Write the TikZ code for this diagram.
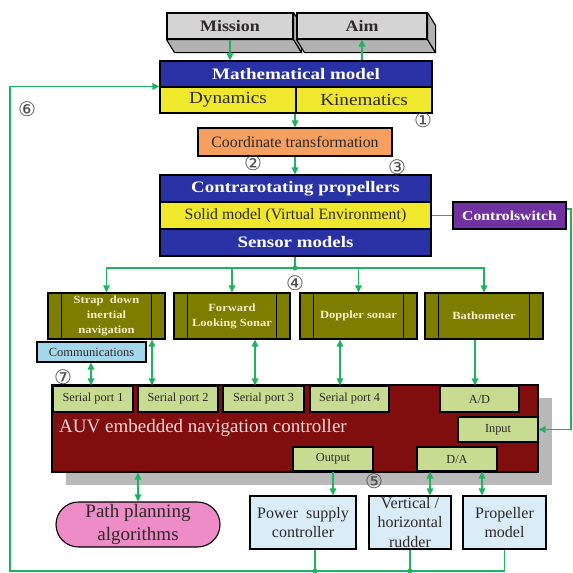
\documentclass[tikz,border=0pt]{standalone}
\usepackage{fontspec}
\setmainfont{Liberation Serif}
\newfontfamily\dvs{DejaVu Sans}
\usetikzlibrary{arrows.meta,shapes.misc}
\definecolor{grn}{RGB}{30,180,95}
\definecolor{bluebar}{RGB}{40,50,165}
\definecolor{yel}{RGB}{240,232,45}
\definecolor{ora}{RGB}{245,160,95}
\definecolor{pur}{RGB}{112,50,160}
\definecolor{oli}{RGB}{125,125,0}
\definecolor{ltblue}{RGB}{165,215,235}
\definecolor{paleblue}{RGB}{218,236,248}
\definecolor{dred}{RGB}{128,14,14}
\definecolor{ltgrn}{RGB}{200,220,145}
\definecolor{pnk}{RGB}{238,140,200}
\definecolor{gface}{RGB}{212,212,212}
\definecolor{gside}{RGB}{178,178,178}
\definecolor{txt}{RGB}{45,40,40}
\definecolor{snstxt}{RGB}{245,240,200}
\definecolor{auvtxt}{RGB}{245,215,215}
\newcommand\fs[2]{\fontsize{#1}{#2}\selectfont}
\newcommand\hs[2]{\scalebox{#1}[1]{#2}}
\newcommand\sls[1]{\scalebox{1.14}[1]{#1}}
\begin{document}
\begin{tikzpicture}[x=1pt,y=-1pt,
  box/.style={draw=black, line width=1.1pt, inner sep=0pt, align=center},
  gline/.style={draw=grn, line width=1.6pt},
  arw/.style={gline, -{Triangle[width=6.5pt,length=7pt]}},
  darw/.style={gline, {Triangle[width=6.5pt,length=7pt]}-{Triangle[width=6.5pt,length=7pt]}},
  num/.style={font=\dvs\fs{20}{20}, text=black!70, inner sep=0pt},
  head/.style={box, fill=bluebar, text=white, font=\bfseries\fs{16}{16}},
  ybar/.style={box, fill=yel, text=txt},
  sens/.style={box, fill=oli, text=snstxt, font=\bfseries\fs{11}{15}, minimum width=117pt, minimum height=46pt},
  port/.style={box, fill=ltgrn, text=txt, font=\fs{12.3}{12}, minimum width=80pt, minimum height=26pt},
  act/.style={box, fill=paleblue, text=txt, font=\fs{16}{19.5}, minimum height=53pt},
  gbox/.style={box, fill=gface, text=txt, font=\bfseries\fs{16}{16}, minimum height=26pt},
  face/.style={fill=gside, draw=black, line width=1.1pt, line join=round},
  dot/.style={circle, fill=grn, inner sep=0pt, minimum size=5pt}
]
\useasboundingbox (0,0) rectangle (573,573);
\fill[white] (0,0) rectangle (573,573);

% Mission / Aim
\node[gbox, minimum width=126pt] (mis) at (230,26) {\hs{1.12}{Mission}};
\filldraw[face] (mis.south west) -- ++(8,13) -- ([shift={(8,13)}]mis.south east) -- (mis.south east) -- cycle;
\filldraw[face] (mis.north east) -- ++(8,13) -- ([shift={(8,13)}]mis.south east) -- (mis.south east) -- cycle;
\node[gbox, minimum width=130pt] (aim) at (362,26) {\hs{1.12}{Aim}};
\filldraw[face] (aim.south west) -- ++(8,13) -- ([shift={(8,13)}]aim.south east) -- (aim.south east) -- cycle;
\filldraw[face] (aim.north east) -- ++(8,13) -- ([shift={(8,13)}]aim.south east) -- (aim.south east) -- cycle;

% Mathematical model
\node[head, minimum width=272pt, minimum height=26pt] (mm) at (296,74) {\hs{1.19}{Mathematical model}};
\node[ybar, minimum width=136pt, minimum height=26pt, font=\fs{17}{17}] (dyn) at (228,100) {\hs{1.13}{Dynamics}};
\node[ybar, minimum width=136pt, minimum height=26pt, font=\fs{17}{17}] (kin) at (364,100) {\hs{1.13}{Kinematics}};

% Coordinate transformation
\node[box, fill=ora, text=txt, font=\fs{15.8}{16}, minimum width=194pt, minimum height=28pt] (ct) at (295,142) {Coordinate transformation};

% Contrarotating block
\node[head, minimum width=271pt, minimum height=27pt] (cp) at (295.5,188.5) {\hs{1.18}{Contrarotating propellers}};
\node[ybar, minimum width=271pt, minimum height=27pt, font=\fs{15.8}{16}] (sm) at (295.5,215.5) {Solid model (Virtual Environment)};
\node[head, minimum width=271pt, minimum height=27pt] (smod) at (295.5,242.5) {\hs{1.18}{Sensor models}};
\node[box, fill=pur, text=white, font=\bfseries\fs{13.5}{14}, minimum width=113pt, minimum height=27pt] (cs) at (509.5,215.5) {\hs{1.16}{Controlswitch}};

% Sensors
\node[sens] (sins) at (106.5,316) {\sls{Strap~~down}\\\sls{inertial}\\\sls{navigation}};
\node[sens, minimum width=116pt] (fls) at (232,316) {\sls{Forward}\\\sls{Looking Sonar}};
\node[sens] (dop) at (358.5,316) {\sls{Doppler sonar}};
\node[sens, minimum width=118pt] (bath) at (484,316) {\sls{Bathometer}};
\foreach \n in {sins,fls,dop,bath}{
  \draw[line width=1.1pt] ([xshift=14pt]\n.north west) -- ([xshift=14pt]\n.south west);
  \draw[line width=1.1pt] ([xshift=-14pt]\n.north east) -- ([xshift=-14pt]\n.south east);
}
\node[box, fill=ltblue, text=txt, font=\fs{12.5}{12}, minimum width=109pt, minimum height=20pt] (com) at (91.5,352) {Communications};

% AUV controller
\fill[gray!55] (66,398) rectangle (552,485);
\node[box, fill=dred, minimum width=486pt, minimum height=87pt] (auv) at (295,428.5) {};
\node[anchor=west, text=auvtxt, font=\fs{19}{19}, inner sep=0pt] (auvt) at (59,428) {AUV embedded navigation controller};
\node[port] (sp1) at (93,399) {Serial port 1};
\node[port] (sp2) at (178,399) {Serial port 2};
\node[port, minimum width=81pt] (sp3) at (263.5,399) {Serial port 3};
\node[port, minimum width=79pt] (sp4) at (349.5,399) {Serial port 4};
\node[port, minimum width=79pt] (ad) at (479.5,399) {A/D};
\node[port, minimum height=25pt] (inp) at (498,429.5) {Input};
\node[port, minimum height=24pt] (out) at (333,459) {Output};
\node[port, minimum height=24pt] (da) at (457,459) {D/A};

% Lower boxes
\node[box, rounded rectangle, fill=pnk, text=txt, font=\fs{19}{23}, minimum width=164pt, minimum height=45pt] (pp) at (138,524.5) {Path planning\\algorithms};
\node[act, minimum width=106pt] (pw) at (303,522.5) {Power~~supply\\controller};
\node[act, minimum width=82pt] (rud) at (410,522.5) {Vertical /\\horizontal\\rudder};
\node[act, minimum width=83pt] (prop) at (504.5,522.5) {Propeller\\model};

% Connectors
\draw[arw] (mis.south) -- (mis.south |- mm.north);
\draw[arw] (mm.north -| aim.south) -- (aim.south);
\draw[arw] (ct.north |- dyn.south) -- (ct.north);
\draw[arw] (ct.south) -- (ct.south |- cp.north);
\coordinate (bus) at (295,268);
\draw[gline] (smod.south -| bus) -- (bus);
\draw[arw] (bus) -| (sins.north);
\draw[arw] (bus) -| (bath.north);
\draw[arw] (bus -| fls.north) -- (fls.north);
\draw[arw] (bus -| dop.north) -- (dop.north);
\node[dot] (busdot) at (bus) {};

\draw[darw] (com.south -| 91,0) -- (sp1.north -| 91,0);
\draw[darw] (sins.south -| 152,0) -- (sp2.north -| 152,0);
\draw[darw] (fls.south -| 255,0) -- (sp3.north -| 255,0);
\draw[darw] (dop.south -| 340,0) -- (sp4.north -| 340,0);
\draw[arw] (bath.south -| 475,0) -- (ad.north -| 475,0);

\draw[gline] (sm.east) -- (cs.west);
\coordinate (rc) at (571,209);
\draw[arw] (cs.east |- rc) -- (rc) |- (inp.east);

\draw[darw] (auv.south -| pp.north) -- (pp.north);
\draw[arw] (out.south) -- (out.south |- pw.north);
\draw[darw] (da.south -| 430,0) -- (rud.north -| 430,0);
\draw[darw] (da.south -| 482,0) -- (prop.north -| 482,0);

\coordinate (bl) at (10,571);
\draw[arw] (prop.south) |- (bl) |- (dyn.north west);
\draw[gline] (pw.south -| 315,0) -- (315,571);
\draw[gline] (rud.south) -- (rud.south |- bl);
\node[dot] (d1) at (315,571) {};
\node[dot] (d2) at (rud.south |- bl) {};

% Circled numbers
\node[num] (n1) at (423,120) {①};
\node[num] (n2) at (253,163) {②};
\node[num] (n3) at (397,167) {③};
\node[num] (n4) at (295,283) {④};
\node[num] (n5) at (374,481) {⑤};
\node[num] (n6) at (27,109) {⑥};
\node[num] (n7) at (63,377) {⑦};
\end{tikzpicture}
\end{document}
